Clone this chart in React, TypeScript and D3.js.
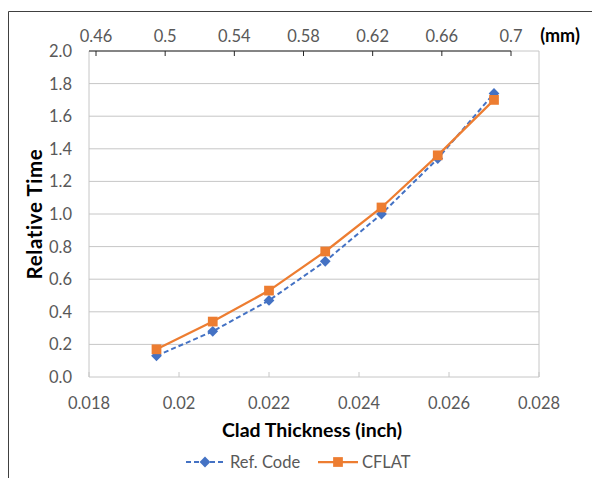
import React from 'react';
import * as d3 from 'd3';

// clad thickness in inch
const thickness = [0.0195, 0.02075, 0.022, 0.02325, 0.0245, 0.02575, 0.027];
const refCode = [0.13, 0.28, 0.47, 0.71, 1.0, 1.34, 1.74];
const cflat = [0.17, 0.34, 0.53, 0.77, 1.04, 1.36, 1.7];

const xTicks = [0.018, 0.02, 0.022, 0.024, 0.026, 0.028];
const yTicks = [0, 0.2, 0.4, 0.6, 0.8, 1.0, 1.2, 1.4, 1.6, 1.8, 2.0];
const mmTicks = [0.46, 0.5, 0.54, 0.58, 0.62, 0.66, 0.7];

const W = 592;
const H = 478;
const plot = { left: 89, right: 539, top: 51, bottom: 377 };

const font = 'Lato, "Open Sans", sans-serif';
const grey = '#595959';
const tickSize = 16.5;

export default function App() {
  const x = d3.scaleLinear().domain([0.018, 0.028]).range([plot.left, plot.right]);
  const y = d3.scaleLinear().domain([0, 2]).range([plot.bottom, plot.top]);
  // secondary axis in mm, drawn on top
  const xmm = d3.scaleLinear().domain([0.46, 0.7]).range([96, 511]);

  const line = d3
    .line<number>()
    .x((_, i) => x(thickness[i]))
    .y((d) => y(d));

  // excel diamond = square turned 45deg
  const diamond = d3.symbol(d3.symbolSquare, 58)();
  const square = d3.symbol(d3.symbolSquare, 95)();

  return (
    <svg width={W} height={H} style={{ position: 'absolute', left: 0, top: 0 }} fontFamily={font}>
      <rect width={W} height={H} fill="#fff" />
      {/* outer frame */}
      <path d={`M8.5,${H} V11.5 H${W}`} fill="none" stroke="#404040" strokeWidth={1} />

      {/* horizontal gridlines */}
      {yTicks.map((t) => (
        <line key={t} x1={plot.left} x2={plot.right} y1={y(t)} y2={y(t)} stroke="#c6c6c6" strokeWidth={1} />
      ))}
      <line x1={plot.left} x2={plot.left} y1={plot.top} y2={plot.bottom} stroke="#c6c6c6" />
      <line x1={plot.right} x2={plot.right} y1={plot.top} y2={plot.bottom} stroke="#c6c6c6" />

      {/* bottom axis ticks, pointing in */}
      {xTicks.map((t) => (
        <g key={t}>
          <line x1={x(t)} x2={x(t)} y1={plot.bottom} y2={plot.bottom - 5} stroke="#c6c6c6" />
          <text x={x(t)} y={409} textAnchor="middle" fontSize={tickSize} fill={grey}>
            {t}
          </text>
        </g>
      ))}

      {/* y tick labels */}
      {yTicks.map((t) => (
        <text key={t} x={72} y={y(t) + 6} textAnchor="end" fontSize={tickSize} fill={grey}>
          {t.toFixed(1)}
        </text>
      ))}

      {/* top axis in mm */}
      <line x1={plot.left} x2={xmm(0.7)} y1={plot.top} y2={plot.top} stroke="#262626" />
      {mmTicks.map((t) => (
        <g key={t}>
          <line x1={xmm(t)} x2={xmm(t)} y1={plot.top} y2={plot.top + 5} stroke="#262626" />
          <text x={xmm(t)} y={41.5} textAnchor="middle" fontSize={tickSize} fill={grey}>
            {t}
          </text>
        </g>
      ))}
      <text x={560} y={41.5} textAnchor="middle" fontSize={18} fontWeight="bold" fill="#000">
        (mm)
      </text>

      {/* series */}
      <path d={line(refCode) ?? ''} fill="none" stroke="#4472C4" strokeWidth={2} strokeDasharray="5,3" />
      {refCode.map((v, i) => (
        <path
          key={i}
          d={diamond ?? ''}
          transform={`translate(${x(thickness[i])},${y(v)}) rotate(45)`}
          fill="#4472C4"
        />
      ))}
      <path d={line(cflat) ?? ''} fill="none" stroke="#ED7D31" strokeWidth={2.25} />
      {cflat.map((v, i) => (
        <path key={i} d={square ?? ''} transform={`translate(${x(thickness[i])},${y(v)})`} fill="#ED7D31" />
      ))}

      {/* axis titles */}
      <text x={312} y={437} textAnchor="middle" fontSize={19.5} fontWeight="bold" fill="#000">
        Clad Thickness (inch)
      </text>
      <text
        transform={`translate(42,${(plot.top + plot.bottom) / 2}) rotate(-90)`}
        textAnchor="middle"
        fontSize={20.5}
        fontWeight="bold"
        letterSpacing={0.6}
        fill="#000"
      >
        Relative Time
      </text>

      {/* legend */}
      <line x1={186} x2={226} y1={462} y2={462} stroke="#4472C4" strokeWidth={2} strokeDasharray="5,3" />
      <path d={diamond ?? ''} transform="translate(205,462) rotate(45)" fill="#4472C4" />
      <text x={230} y={468} fontSize={tickSize} fill={grey}>
        Ref. Code
      </text>
      <line x1={318} x2={358} y1={462} y2={462} stroke="#ED7D31" strokeWidth={2.25} />
      <path d={square ?? ''} transform="translate(338,462)" fill="#ED7D31" />
      <text x={362} y={468} fontSize={tickSize} fill={grey}>
        CFLAT
      </text>
    </svg>
  );
}
